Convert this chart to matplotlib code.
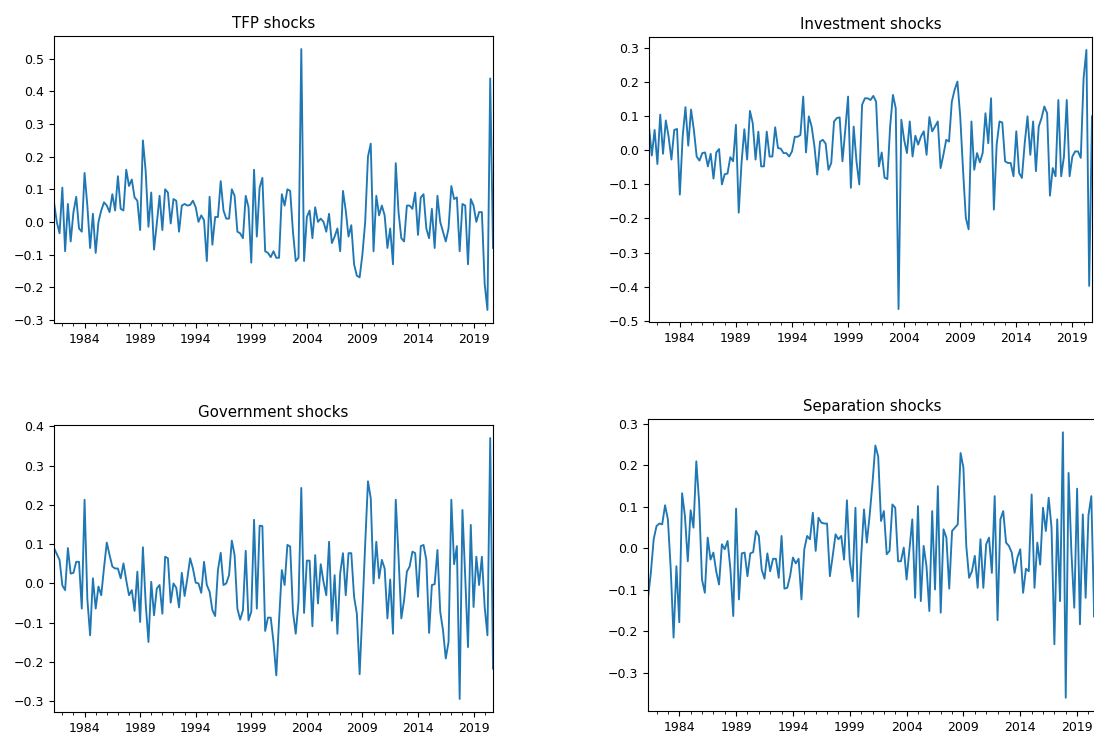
import numpy as np
import matplotlib
matplotlib.use('Agg')
import matplotlib.pyplot as plt
from matplotlib.ticker import MultipleLocator

# Quarterly series start in 1981Q2 and run to 2020Q4
START_YEAR = 1981
START_QUARTER = 2

# One row per year (1981 has only Q2-Q4)
tfp_shocks = [
    [0.06, 0.0, -0.035],
    [0.105, -0.09, 0.055, -0.06],
    [0.03, 0.077, -0.02, -0.03],
    [0.15, 0.05, -0.08, 0.025],
    [-0.095, 0.0, 0.035, 0.06],
    [0.05, 0.03, 0.085, 0.035],
    [0.14, 0.04, 0.035, 0.16],
    [0.11, 0.13, 0.075, 0.065],
    [-0.025, 0.25, 0.155, -0.015],
    [0.09, -0.085, -0.005, 0.08],
    [-0.025, 0.1, 0.09, -0.005],
    [0.07, 0.065, -0.03, 0.05],
    [0.055, 0.05, 0.052, 0.065],
    [0.045, 0.0, 0.02, 0.005],
    [-0.12, 0.077, -0.07, 0.015],
    [0.015, 0.125, 0.035, 0.01],
    [0.01, 0.1, 0.08, -0.03],
    [-0.035, -0.05, 0.08, 0.045],
    [-0.125, 0.16, -0.045, 0.105],
    [0.135, -0.09, -0.095, -0.108],
    [-0.09, -0.11, -0.11, 0.085],
    [0.05, 0.1, 0.095, -0.03],
    [-0.12, -0.11, 0.53, -0.12],
    [0.015, 0.035, -0.05, 0.045],
    [0.0, 0.01, 0.0, -0.03],
    [0.025, -0.065, -0.045, -0.02],
    [-0.09, 0.095, 0.035, -0.045],
    [-0.01, -0.13, -0.165, -0.17],
    [-0.1, 0.0, 0.2, 0.24],
    [-0.09, 0.08, 0.02, 0.05],
    [0.02, -0.08, -0.02, -0.13],
    [0.18, 0.03, -0.05, -0.06],
    [0.05, 0.05, 0.04, 0.09],
    [-0.04, 0.075, 0.085, -0.02],
    [-0.05, 0.04, -0.08, 0.08],
    [0.0, -0.03, -0.06, -0.02],
    [0.11, 0.07, 0.075, -0.09],
    [0.055, 0.05, -0.13, 0.07],
    [0.05, 0.0, 0.03, 0.03],
    [-0.19, -0.27, 0.44, -0.08],
]

investment_shocks = [
    [0.07, -0.015, 0.06],
    [-0.04, 0.105, -0.01, 0.088],
    [0.04, -0.027, 0.06, 0.063],
    [-0.13, 0.04, 0.127, 0.014],
    [0.12, 0.06, -0.018, -0.03],
    [-0.008, -0.006, -0.047, -0.01],
    [-0.083, -0.006, 0.004, -0.1],
    [-0.07, -0.068, -0.02, -0.032],
    [0.075, -0.183, -0.037, 0.062],
    [-0.027, 0.116, 0.08, -0.027],
    [0.055, -0.047, -0.047, 0.055],
    [-0.018, -0.018, 0.068, 0.007],
    [0.005, -0.008, -0.008, -0.018],
    [-0.003, 0.04, 0.04, 0.045],
    [0.158, -0.006, 0.1, 0.07],
    [0.012, -0.071, 0.026, 0.031],
    [0.02, -0.057, -0.037, 0.085],
    [0.095, 0.097, -0.032, 0.06],
    [0.158, -0.11, 0.07, -0.032],
    [-0.1, 0.134, 0.153, 0.153],
    [0.148, 0.16, 0.143, -0.047],
    [-0.006, -0.08, -0.084, 0.07],
    [0.163, 0.124, -0.466, 0.09],
    [0.031, -0.008, 0.085, -0.018],
    [0.043, 0.017, 0.041, 0.056],
    [-0.013, 0.098, 0.056, 0.07],
    [0.085, -0.052, -0.013, 0.031],
    [0.026, 0.143, 0.178, 0.202],
    [0.1, -0.057, -0.198, -0.232],
    [0.085, -0.057, -0.008, -0.035],
    [-0.008, 0.109, 0.021, 0.153],
    [-0.174, 0.017, 0.085, 0.082],
    [-0.032, -0.037, -0.037, -0.076],
    [0.056, -0.066, -0.081, 0.021],
    [0.1, -0.013, 0.085, -0.061],
    [0.07, 0.095, 0.129, 0.109],
    [-0.133, -0.052, -0.076, 0.148],
    [-0.076, -0.018, 0.148, -0.076],
    [-0.018, -0.003, -0.003, -0.022],
    [0.212, 0.295, -0.398, 0.1],
]

government_shocks = [
    [0.09, 0.075, 0.06],
    [-0.005, -0.017, 0.09, 0.025],
    [0.027, 0.055, 0.055, -0.064],
    [0.213, -0.04, -0.132, 0.013],
    [-0.064, -0.008, -0.03, 0.04],
    [0.104, 0.072, 0.043, 0.038],
    [0.038, 0.013, 0.051, 0.008],
    [-0.03, -0.017, -0.07, 0.03],
    [-0.098, 0.092, -0.051, -0.149],
    [0.004, -0.081, -0.013, -0.004],
    [-0.077, 0.068, 0.064, -0.049],
    [0.0, -0.011, -0.061, 0.027],
    [-0.032, 0.013, 0.064, 0.038],
    [0.002, 0.0, -0.024, 0.055],
    [-0.004, -0.021, -0.068, -0.083],
    [0.034, 0.078, -0.004, 0.0],
    [0.021, 0.109, 0.072, -0.064],
    [-0.092, -0.068, 0.083, -0.094],
    [-0.072, 0.162, -0.064, 0.147],
    [0.146, -0.121, -0.087, -0.087],
    [-0.149, -0.234, -0.094, 0.034],
    [-0.004, 0.098, 0.094, -0.072],
    [-0.128, -0.047, 0.243, -0.075],
    [0.058, 0.058, -0.109, 0.072],
    [-0.051, 0.049, 0.004, -0.03],
    [0.106, -0.095, 0.021, -0.128],
    [0.026, 0.077, -0.03, 0.077],
    [0.077, -0.034, -0.077, -0.231],
    [-0.07, 0.1, 0.26, 0.217],
    [0.0, 0.106, 0.013, 0.06],
    [0.038, -0.089, 0.01, -0.128],
    [0.213, 0.068, -0.089, -0.043],
    [0.03, 0.043, 0.081, 0.077],
    [-0.034, 0.095, 0.098, 0.06],
    [-0.126, -0.004, -0.002, 0.085],
    [-0.072, -0.119, -0.191, -0.149],
    [0.213, 0.049, 0.095, -0.294],
    [0.187, 0.017, -0.162, 0.149],
    [-0.06, 0.068, -0.004, 0.068],
    [-0.06, -0.132, 0.37, -0.217],
]

separation_shocks = [
    [-0.119, -0.059, 0.022],
    [0.054, 0.06, 0.058, 0.104],
    [0.07, -0.05, -0.215, -0.043],
    [-0.178, 0.133, 0.078, -0.031],
    [0.092, 0.05, 0.21, 0.11],
    [-0.075, -0.107, 0.026, -0.027],
    [-0.01, -0.055, -0.087, 0.01],
    [-0.002, 0.018, -0.05, -0.163],
    [0.096, -0.123, -0.012, -0.01],
    [-0.067, -0.012, -0.009, 0.042],
    [0.03, -0.051, -0.073, -0.012],
    [-0.055, -0.025, -0.025, -0.071],
    [0.03, -0.097, -0.095, -0.067],
    [-0.022, -0.036, -0.025, -0.123],
    [-0.002, 0.03, 0.022, 0.086],
    [-0.006, 0.074, 0.062, 0.06],
    [0.06, -0.067, -0.018, 0.034],
    [0.022, 0.03, -0.027, 0.116],
    [-0.031, -0.079, 0.098, -0.165],
    [-0.02, 0.094, 0.014, 0.08],
    [0.158, 0.248, 0.222, 0.066],
    [0.09, -0.014, -0.006, 0.106],
    [0.098, -0.031, -0.031, 0.002],
    [-0.075, -0.002, 0.07, -0.119],
    [0.102, -0.127, 0.006, -0.043],
    [-0.151, 0.09, -0.099, 0.15],
    [-0.155, 0.046, 0.026, -0.097],
    [0.042, 0.05, 0.058, 0.23],
    [0.194, 0.006, -0.071, -0.055],
    [-0.018, -0.095, 0.022, -0.095],
    [0.01, 0.026, -0.059, 0.126],
    [-0.173, 0.07, 0.09, 0.014],
    [0.006, -0.01, -0.059, -0.022],
    [-0.002, -0.107, -0.049, -0.055],
    [0.13, -0.095, 0.014, -0.039],
    [0.098, 0.042, 0.122, 0.05],
    [-0.231, 0.07, -0.127, 0.28],
    [-0.36, 0.182, -0.01, -0.143],
    [0.144, -0.183, 0.082, -0.119],
    [0.08, 0.126, -0.165, 0.02],
]

titles = ['TFP shocks', 'Investment shocks', 'Government shocks', 'Separation shocks']
label_years = list(range(1984, 2020, 5))

FIG_W, FIG_H = 1094, 733
# axes boxes in pixels: left, top, right, bottom (the picture is cropped on the right)
boxes = [
    (54, 36, 493, 323),
    (649, 37, 1092, 322),
    (54, 425, 493, 712),
    (648, 419, 1097, 711),
]


def flatten(rows):
    return np.array([v for row in rows for v in row])


def quarter_axis(n):
    """Decimal-year positions for n quarters from the start quarter"""
    return START_YEAR + (START_QUARTER - 1) / 4 + np.arange(n) / 4


def draw_panel(fig, box, title, values):
    left, top, right, bottom = box
    ax = fig.add_axes([left / FIG_W, 1 - bottom / FIG_H,
                       (right - left) / FIG_W, (bottom - top) / FIG_H])
    x = quarter_axis(len(values))
    ax.plot(x, values, color='#1f77b4', linewidth=1.35)
    ax.set_xlim(x[0], x[-1])
    ax.set_xticks(label_years)
    ax.set_xticklabels([str(y) for y in label_years])
    ax.xaxis.set_minor_locator(MultipleLocator(1))
    ax.tick_params(labelsize=9)
    ax.set_title(title, fontsize=10.8)
    return ax


def main():
    fig = plt.figure(figsize=(FIG_W / 100, FIG_H / 100), dpi=100)
    series = [tfp_shocks, investment_shocks, government_shocks, separation_shocks]
    for box, title, rows in zip(boxes, titles, series):
        draw_panel(fig, box, title, flatten(rows))
    fig.savefig('out.png', dpi=100)
    plt.close(fig)


if __name__ == "__main__":
    main()
